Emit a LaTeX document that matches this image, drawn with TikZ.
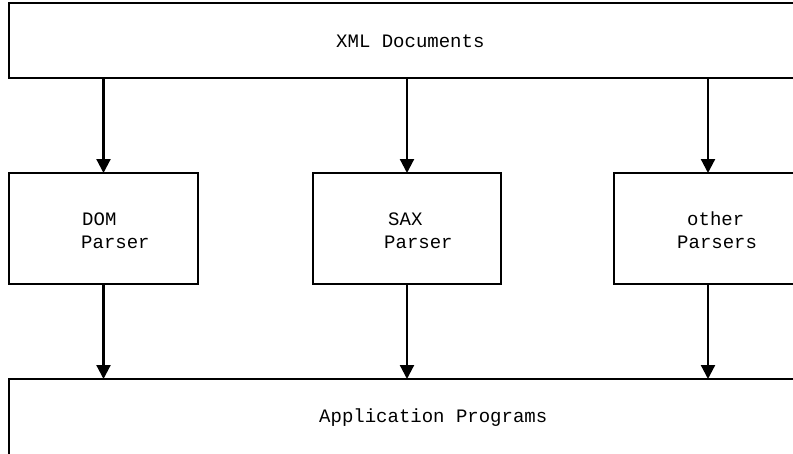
\documentclass[tikz,border=0pt]{standalone}
\usepackage{fontspec}
\setmonofont{Liberation Mono}
\usetikzlibrary{arrows.meta}
\begin{document}
\begin{tikzpicture}[x=1pt,y=-1pt,
  boxshape/.style={draw=black,line width=2.2pt,rectangle,inner sep=0pt,outer sep=0pt,anchor=north west},
  lbl/.style={font=\ttfamily\fontsize{19}{23}\selectfont,inner sep=0pt,anchor=base west},
  arr/.style={line width=2.2pt,-{Triangle[length=14pt,width=14pt]}}]
\useasboundingbox (0,0) rectangle (793,453);
\fill[white] (0,0) rectangle (793,453);
\clip (0,0) rectangle (793,453);
% boxes
\node[boxshape,minimum width=840pt,minimum height=75pt] (xml) at (9,3) {};
\node[boxshape,minimum width=189pt,minimum height=111pt] (dom) at (9,173) {};
\node[boxshape,minimum width=188pt,minimum height=111pt] (sax) at (313,173) {};
\node[boxshape,minimum width=188pt,minimum height=111pt] (oth) at (614,173) {};
\node[boxshape,minimum width=840pt,minimum height=100pt] (app) at (9,379) {};
% labels
\node[lbl] (xmlt) at (336,47) {XML Documents};
\node[lbl] (domt1) at (82,225) {DOM};
\node[lbl] (domt2) at (81,248) {Parser};
\node[lbl] (saxt1) at (388,225) {SAX};
\node[lbl] (saxt2) at (384,248) {Parser};
\node[lbl] (otht1) at (687,225) {other};
\node[lbl] (otht2) at (677,248) {Parsers};
\node[lbl] (appt) at (319,422) {Application Programs};
% connectors
\draw[arr] (dom.north |- xml.south) -- (dom.north);
\draw[arr] (sax.north |- xml.south) -- (sax.north);
\draw[arr] (oth.north |- xml.south) -- (oth.north);
\draw[arr] (dom.south) -- (dom.south |- app.north);
\draw[arr] (sax.south) -- (sax.south |- app.north);
\draw[arr] (oth.south) -- (oth.south |- app.north);
\end{tikzpicture}
\end{document}
